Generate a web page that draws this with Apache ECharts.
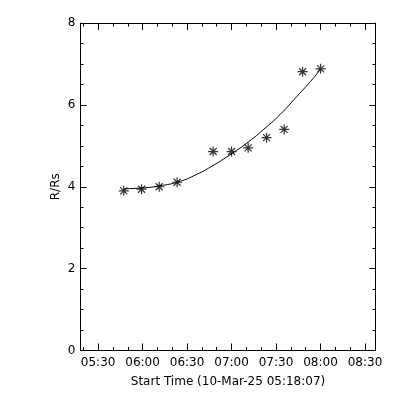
<!DOCTYPE html>
<html>
<head>
<meta charset="utf-8">
<script src="https://cdn.jsdelivr.net/npm/echarts@6/dist/echarts.min.js"></script>
<style>html,body{margin:0;padding:0;background:#fff}#c{width:400px;height:400px}</style>
</head>
<body>
<div id="c"></div>
<script>
// Observation times (10-Mar-25) and heights in solar radii
const obsTimes = ['05:47:18','05:59:18','06:11:12','06:23:18','06:47:36','07:00:00','07:11:12','07:23:36','07:35:30','07:47:54','08:00:06'];
const heights  = [3.90, 3.94, 4.00, 4.11, 4.86, 4.86, 4.95, 5.20, 5.40, 6.81, 6.88];
// Fitted curve
const fitTimes = ['05:47:18','05:59:18','06:11:12','06:25:06','06:36:24','06:47:36','06:58:54','07:10:06','07:21:18','07:32:36','07:43:54','07:55:06','08:00:06'];
const fitHeights = [3.95, 3.97, 4.02, 4.13, 4.30, 4.52, 4.78, 5.06, 5.39, 5.76, 6.20, 6.65, 6.88];
// Axis settings
const startTime = '05:18:07';
const endTime = '08:37:06';
const majorTickTimes = ['05:30','06:00','06:30','07:00','07:30','08:00','08:30'];
const minorTickTimes = ['05:20','05:40','05:50','06:10','06:20','06:40','06:50','07:10','07:20','07:40','07:50','08:10','08:20'];
const yTicks = [0, 2, 4, 6, 8];
const xTitle = 'Start Time (10-Mar-25 05:18:07)';
const yTitle = 'R/Rs';

function toMin(s){ const p = s.split(':').map(Number); return (p[0]-5)*60 + p[1] + (p[2]||0)/60; }
function fmt(m){ const h = 5 + Math.floor(m/60); const mm = Math.round(m - Math.floor(m/60)*60); return String(h).padStart(2,'0')+':'+String(mm).padStart(2,'0'); }

const xmin = toMin(startTime), xmax = toMin(endTime);
const majors = majorTickTimes.map(toMin), minors = minorTickTimes.map(toMin);
const font = 'DejaVu Sans';
const black = '#000';

function xAx(pos, ticks, len, showLine, showLabel){
  return {
    type:'value', position:pos, min:xmin, max:xmax,
    axisLine:{show:showLine, onZero:false, lineStyle:{color:black, width:1}},
    axisTick:{show:true, inside:true, length:len, customValues:ticks, lineStyle:{color:black, width:1}},
    axisLabel:{show:showLabel, customValues:ticks, formatter:fmt, margin:6, color:black, fontFamily:font, fontSize:12},
    splitLine:{show:false}
  };
}
const xAxes = [
  Object.assign(xAx('bottom', majors, 7, true, true), {name:xTitle, nameLocation:'middle', nameGap:25, nameMoveOverlap:false, nameTextStyle:{color:black, fontFamily:font, fontSize:12}}),
  xAx('bottom', minors, 3.5, false, false),
  xAx('top', majors, 7, true, false),
  xAx('top', minors, 3.5, false, false)
];
function yAx(pos, showLabel, named){
  const a = {
    type:'value', position:pos, min:yTicks[0], max:yTicks[yTicks.length-1], interval:yTicks[1]-yTicks[0],
    axisLine:{show:true, onZero:false, lineStyle:{color:black, width:1}},
    axisTick:{show:true, inside:true, length:6, lineStyle:{color:black}},
    minorTick:{show:true, splitNumber:4, length:3, lineStyle:{color:black}},
    axisLabel:{show:showLabel, margin:5, color:black, fontFamily:font, fontSize:12},
    splitLine:{show:false}
  };
  if(named){ Object.assign(a, {name:yTitle, nameLocation:'middle', nameGap:19, nameMoveOverlap:false, nameTextStyle:{color:black, fontFamily:font, fontSize:12}}); }
  return a;
}
const star = 'path://M0,-10L0,10M-10,0L10,0M-7,-7L7,7M-7,7L7,-7';

const chart = echarts.init(document.getElementById('c'), null, {renderer:'canvas'});
chart.setOption({
  animation:false,
  backgroundColor:'#fff',
  grid:{left:80.5, right:24.5, top:23, bottom:49.5},
  xAxis:xAxes,
  yAxis:[yAx('left', true, true), yAx('right', false, false)],
  series:[
    {type:'line', xAxisIndex:0, yAxisIndex:0, data:fitTimes.map((t,i)=>[toMin(t), fitHeights[i]]),
     smooth:0.5, showSymbol:false, lineStyle:{color:black, width:1}, silent:true},
    {type:'scatter', xAxisIndex:0, yAxisIndex:0, data:obsTimes.map((t,i)=>[toMin(t), heights[i]]),
     symbol:star, symbolSize:10, itemStyle:{color:'none', borderColor:black, borderWidth:1.2}}
  ]
});
</script>
</body>
</html>
